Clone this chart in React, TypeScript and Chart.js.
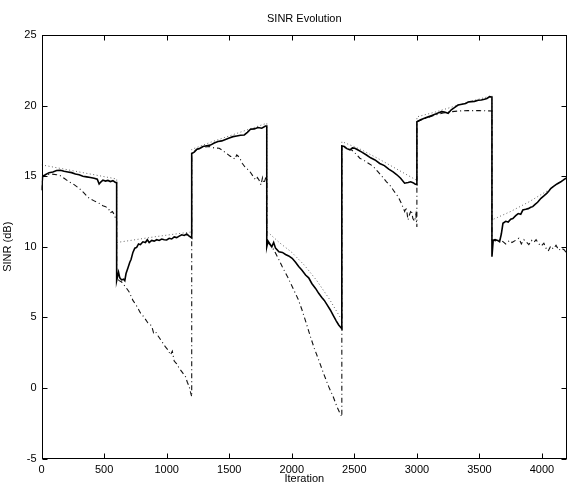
import React, { useEffect, useRef } from "react";
import { Chart, registerables } from "chart.js";

Chart.register(...registerables);

const chartTitle = "SINR Evolution";
const xTitle = "Iteration";
const yTitle = "SINR (dB)";
const xMin = 0;
const xMax = 4200;
const xTickValues = [0, 500, 1000, 1500, 2000, 2500, 3000, 3500, 4000];
const yMin = -5;
const yMax = 25;
const yTickValues = [-5, 0, 5, 10, 15, 20, 25];

// Solid line (tracked SINR)
const solidIter = [
  0, 8, 30, 60, 90, 120, 150, 180, 210, 240, 270, 300, 330, 360, 390, 420, 445, 460, 475, 490, 510, 530, 550, 570, 590, 600,
  600, 615, 625, 640, 655, 665, 675, 690, 705, 715, 730, 745, 760, 775, 790, 810, 830, 845, 860, 880, 900, 920, 940, 960, 980, 1000, 1020, 1040, 1060, 1080, 1100, 1120, 1140, 1160, 1180, 1200,
  1200, 1220, 1240, 1260, 1290, 1320, 1350, 1380, 1410, 1440, 1470, 1500, 1530, 1560, 1590, 1620, 1645, 1670, 1700, 1730, 1760, 1790, 1800,
  1800, 1810, 1825, 1840, 1855, 1870, 1897, 1925, 1950, 1975, 2003, 2030, 2055, 2080, 2110, 2135, 2160, 2190, 2215, 2240, 2260, 2285, 2308, 2330, 2355, 2375, 2390, 2400,
  2400, 2420, 2440, 2465, 2485, 2504, 2530, 2560, 2597, 2630, 2665, 2703, 2740, 2775, 2810, 2840, 2870, 2902, 2930, 2950, 2969, 2985, 3000,
  3000, 3030, 3060, 3091, 3120, 3150, 3175, 3197, 3220, 3250, 3275, 3300, 3329, 3360, 3390, 3410, 3435, 3460, 3490, 3515, 3540, 3560, 3582, 3600,
  3600, 3610, 3625, 3645, 3661, 3675, 3688, 3710, 3730, 3750, 3767, 3790, 3810, 3830, 3847, 3870, 3890, 3910, 3926, 3945, 3965, 3992, 4015, 4040, 4055, 4072, 4095, 4120, 4151, 4175, 4200,
];
const solidSinr = [
  14.0, 15.0, 15.1, 15.25, 15.3, 15.4, 15.42, 15.35, 15.3, 15.25, 15.15, 15.1, 15.0, 14.95, 14.9, 14.85, 14.78, 14.45, 14.6, 14.72, 14.65, 14.7, 14.62, 14.68, 14.55, 14.55,
  7.6, 8.2, 7.8, 7.65, 7.7, 7.6, 8.1, 8.5, 8.9, 9.1, 9.6, 9.9, 9.95, 10.2, 10.15, 10.35, 10.3, 10.5, 10.3, 10.45, 10.4, 10.5, 10.45, 10.55, 10.5, 10.48, 10.6, 10.55, 10.7, 10.65, 10.75, 10.85, 10.8, 10.9, 10.75, 10.62,
  16.6, 16.7, 16.9, 16.95, 17.1, 17.15, 17.2, 17.35, 17.45, 17.5, 17.6, 17.7, 17.8, 17.85, 17.9, 17.92, 18.1, 18.32, 18.35, 18.45, 18.4, 18.55, 18.55,
  10.0, 10.4, 10.2, 10.0, 10.3, 9.9, 9.65, 9.6, 9.45, 9.35, 9.18, 8.9, 8.6, 8.35, 8.0, 7.8, 7.4, 7.05, 6.7, 6.4, 6.2, 5.85, 5.52, 5.15, 4.75, 4.46, 4.3, 4.2,
  17.14, 17.1, 16.95, 16.86, 17.0, 16.98, 16.85, 16.7, 16.5, 16.3, 16.15, 15.9, 15.75, 15.5, 15.3, 15.1, 14.85, 14.5, 14.55, 14.6, 14.54, 14.45, 14.4,
  18.86, 19.0, 19.1, 19.2, 19.3, 19.4, 19.5, 19.57, 19.55, 19.45, 19.7, 19.85, 20.04, 20.1, 20.15, 20.25, 20.28, 20.3, 20.38, 20.4, 20.45, 20.5, 20.63, 20.6,
  9.3, 10.45, 10.5, 10.45, 10.36, 10.9, 11.66, 11.8, 11.75, 11.95, 12.0, 12.2, 12.35, 12.3, 12.6, 12.65, 12.7, 12.8, 12.84, 13.0, 13.15, 13.43, 13.6, 13.8, 13.95, 14.14, 14.3, 14.45, 14.6, 14.75, 14.9,
];

// Dotted line (reference / optimum)
const dottedIter = [
  0, 150, 300, 450, 600,
  600, 750, 900, 1050, 1200,
  1200, 1350, 1500, 1650, 1800,
  1800, 1900, 2000, 2100, 2200, 2300, 2400,
  2400, 2550, 2700, 2850, 3000,
  3000, 3150, 3300, 3450, 3600,
  3600, 3750, 3900, 4050, 4200,
];
const dottedSinr = [
  15.8, 15.55, 15.3, 15.05, 14.8,
  10.3, 10.5, 10.7, 10.88, 11.05,
  16.9, 17.4, 17.85, 18.3, 18.75,
  11.1, 10.3, 9.6, 8.7, 7.6, 6.3, 4.8,
  17.45, 16.9, 16.2, 15.45, 14.7,
  19.2, 19.55, 19.95, 20.35, 20.7,
  11.9, 12.5, 13.2, 14.0, 14.95,
];

// Dash-dot line (non-adaptive)
const dashDotIter = [
  0, 8, 40, 80, 120, 141, 180, 220, 260, 300, 340, 380, 420, 459, 490, 512, 535, 550, 566, 580, 592, 600,
  600, 620, 640, 670, 700, 730, 760, 790, 820, 850, 880, 895, 910, 930, 960, 990, 1010, 1030, 1045, 1060, 1080, 1100, 1125, 1150, 1165, 1180, 1190, 1200,
  1200, 1240, 1290, 1340, 1380, 1420, 1450, 1480, 1510, 1525, 1545, 1560, 1580, 1605, 1632, 1660, 1690, 1712, 1725, 1738, 1754, 1766, 1778, 1790, 1800,
  1800, 1830, 1857, 1890, 1923, 1970, 2016, 2050, 2082, 2115, 2149, 2180, 2215, 2255, 2295, 2330, 2361, 2385, 2400,
  2400, 2440, 2480, 2510, 2544, 2580, 2615, 2650, 2690, 2720, 2757, 2790, 2820, 2850, 2875, 2902, 2915, 2929, 2942, 2955, 2968, 2982, 2992, 3000,
  3000, 3070, 3144, 3210, 3277, 3340, 3409, 3500, 3600,
  3600, 3640, 3665, 3688, 3710, 3740, 3760, 3794, 3815, 3835, 3855, 3873, 3895, 3915, 3935, 3953, 3975, 3995, 4015, 4032, 4050, 4070, 4090, 4112, 4135, 4155, 4179, 4200,
];
const dashDotSinr = [
  14.0, 15.0, 15.1, 15.15, 15.1, 15.08, 14.85, 14.6, 14.4, 14.14, 13.8, 13.43, 13.25, 13.08, 12.9, 12.84, 12.7, 12.4, 12.49, 12.3, 12.0, 11.8,
  7.8, 7.6, 7.5, 7.17, 6.8, 6.2, 5.8, 5.31, 5.0, 4.6, 4.4, 3.9, 3.99, 3.7, 3.3, 2.9, 2.7, 2.34, 2.6, 1.9, 1.7, 1.4, 1.1, 0.8, 0.4, 0.1, -0.3, -0.62,
  16.6, 16.9, 17.05, 17.1, 17.0, 16.98, 16.8, 16.6, 16.4, 16.38, 16.2, 16.5, 16.35, 15.9, 15.58, 15.4, 15.0, 14.73, 14.9, 14.73, 14.38, 14.9, 14.5, 14.85, 14.96,
  10.36, 10.1, 9.77, 9.2, 8.6, 7.8, 6.94, 6.3, 5.52, 4.6, 3.63, 2.8, 1.98, 1.0, 0.09, -0.6, -1.33, -1.8, -2.04,
  17.14, 16.95, 16.85, 16.6, 16.27, 16.1, 15.9, 15.7, 15.3, 15.0, 14.6, 14.3, 13.9, 13.55, 13.1, 12.5, 12.8, 11.9, 12.3, 12.6, 12.0, 11.8, 12.3, 11.4,
  18.86, 19.1, 19.33, 19.48, 19.57, 19.62, 19.64, 19.64, 19.62,
  10.48, 10.4, 10.5, 10.36, 10.2, 10.45, 10.3, 10.48, 10.6, 10.2, 10.5, 10.36, 10.15, 10.45, 10.3, 10.5, 10.2, 10.05, 10.25, 9.9, 9.7, 10.05, 9.85, 10.1, 9.75, 9.9, 9.77, 9.5,
];

const FONT = "'Liberation Sans', Arial, Helvetica, sans-serif";

const toPoints = (xs: number[], ys: number[]) => xs.map((x, i) => ({ x, y: ys[i] }));

const framePlugin = {
  id: "matlabFrame",
  afterDraw(chart: any) {
    const { ctx, chartArea } = chart;
    const { left, right, top, bottom } = chartArea;
    const xs = chart.scales.x;
    const ys = chart.scales.y;
    ctx.save();
    ctx.strokeStyle = "#000";
    ctx.lineWidth = 1;
    const L = Math.round(left) + 0.5;
    const R = Math.round(right) - 0.5;
    const T = Math.round(top) + 0.5;
    const B = Math.round(bottom) - 0.5;
    ctx.strokeRect(L, T, R - L, B - T);
    const tl = 5;
    ctx.beginPath();
    xs.ticks.forEach((t: any) => {
      const p = Math.round(xs.getPixelForValue(t.value)) + 0.5;
      ctx.moveTo(p, B);
      ctx.lineTo(p, B - tl);
      ctx.moveTo(p, T);
      ctx.lineTo(p, T + tl);
    });
    ys.ticks.forEach((t: any) => {
      const p = Math.round(ys.getPixelForValue(t.value)) + 0.5;
      ctx.moveTo(L, p);
      ctx.lineTo(L + tl, p);
      ctx.moveTo(R, p);
      ctx.lineTo(R - tl, p);
    });
    ctx.stroke();

    ctx.fillStyle = "#000";
    ctx.font = `11px ${FONT}`;
    ctx.textAlign = "center";
    ctx.textBaseline = "middle";
    const cx = (left + right) / 2;
    ctx.fillText(chartTitle, cx, 19);
    ctx.fillText(xTitle, cx, 478.5);
    ctx.translate(8, (top + bottom) / 2);
    ctx.rotate(-Math.PI / 2);
    ctx.fillText(yTitle, 0, 0);
    ctx.restore();
  },
};

export default function App() {
  const ref = useRef<HTMLCanvasElement | null>(null);
  useEffect(() => {
    if (!ref.current) return;
    const chart = new Chart(ref.current, {
      type: "line",
      data: {
        datasets: [
          {
            label: "SINR",
            data: toPoints(solidIter, solidSinr),
            borderColor: "#000",
            borderWidth: 1.6,
            pointRadius: 0,
            tension: 0,
            order: 1,
          },
          {
            label: "Non-adaptive",
            data: toPoints(dashDotIter, dashDotSinr),
            borderColor: "#111",
            borderWidth: 1.1,
            borderDash: [5, 3, 1, 3],
            pointRadius: 0,
            tension: 0,
            order: 2,
          },
          {
            label: "Optimum",
            data: toPoints(dottedIter, dottedSinr),
            borderColor: "#666",
            borderWidth: 1,
            borderDash: [1, 2.5],
            pointRadius: 0,
            tension: 0,
            order: 3,
          },
        ],
      },
      options: {
        animation: false,
        responsive: false,
        layout: { padding: { top: 35, right: 1, left: 0, bottom: 0 } },
        plugins: {
          legend: { display: false },
          title: { display: false },
          tooltip: { enabled: false },
        },
        scales: {
          x: {
            type: "linear",
            min: xMin,
            max: xMax,
            grid: { display: false, drawTicks: false },
            border: { display: false },
            ticks: {
              padding: 5,
              color: "#000",
              font: { family: FONT, size: 11 },
              maxRotation: 0,
              autoSkip: false,
              callback: (v: any) => String(v),
            },
            afterBuildTicks: (s: any) => {
              s.ticks = xTickValues.map((value) => ({ value }));
            },
            afterFit: (s: any) => {
              s.height = 25.5;
            },
          },
          y: {
            type: "linear",
            min: yMin,
            max: yMax,
            grid: { display: false, drawTicks: false },
            border: { display: false },
            ticks: {
              padding: 5,
              color: "#000",
              font: { family: FONT, size: 11 },
              autoSkip: false,
              callback: (v: any) => String(v),
            },
            afterBuildTicks: (s: any) => {
              s.ticks = yTickValues.map((value) => ({ value }));
            },
            afterFit: (s: any) => {
              s.width = 41.6;
            },
          },
        },
      },
      plugins: [framePlugin],
    });
    return () => chart.destroy();
  }, []);
  return (
    <div style={{ position: "fixed", left: 0, top: 0, width: 568, height: 484, background: "#fff" }}>
      <canvas ref={ref} width={568} height={484} style={{ display: "block" }} />
    </div>
  );
}
